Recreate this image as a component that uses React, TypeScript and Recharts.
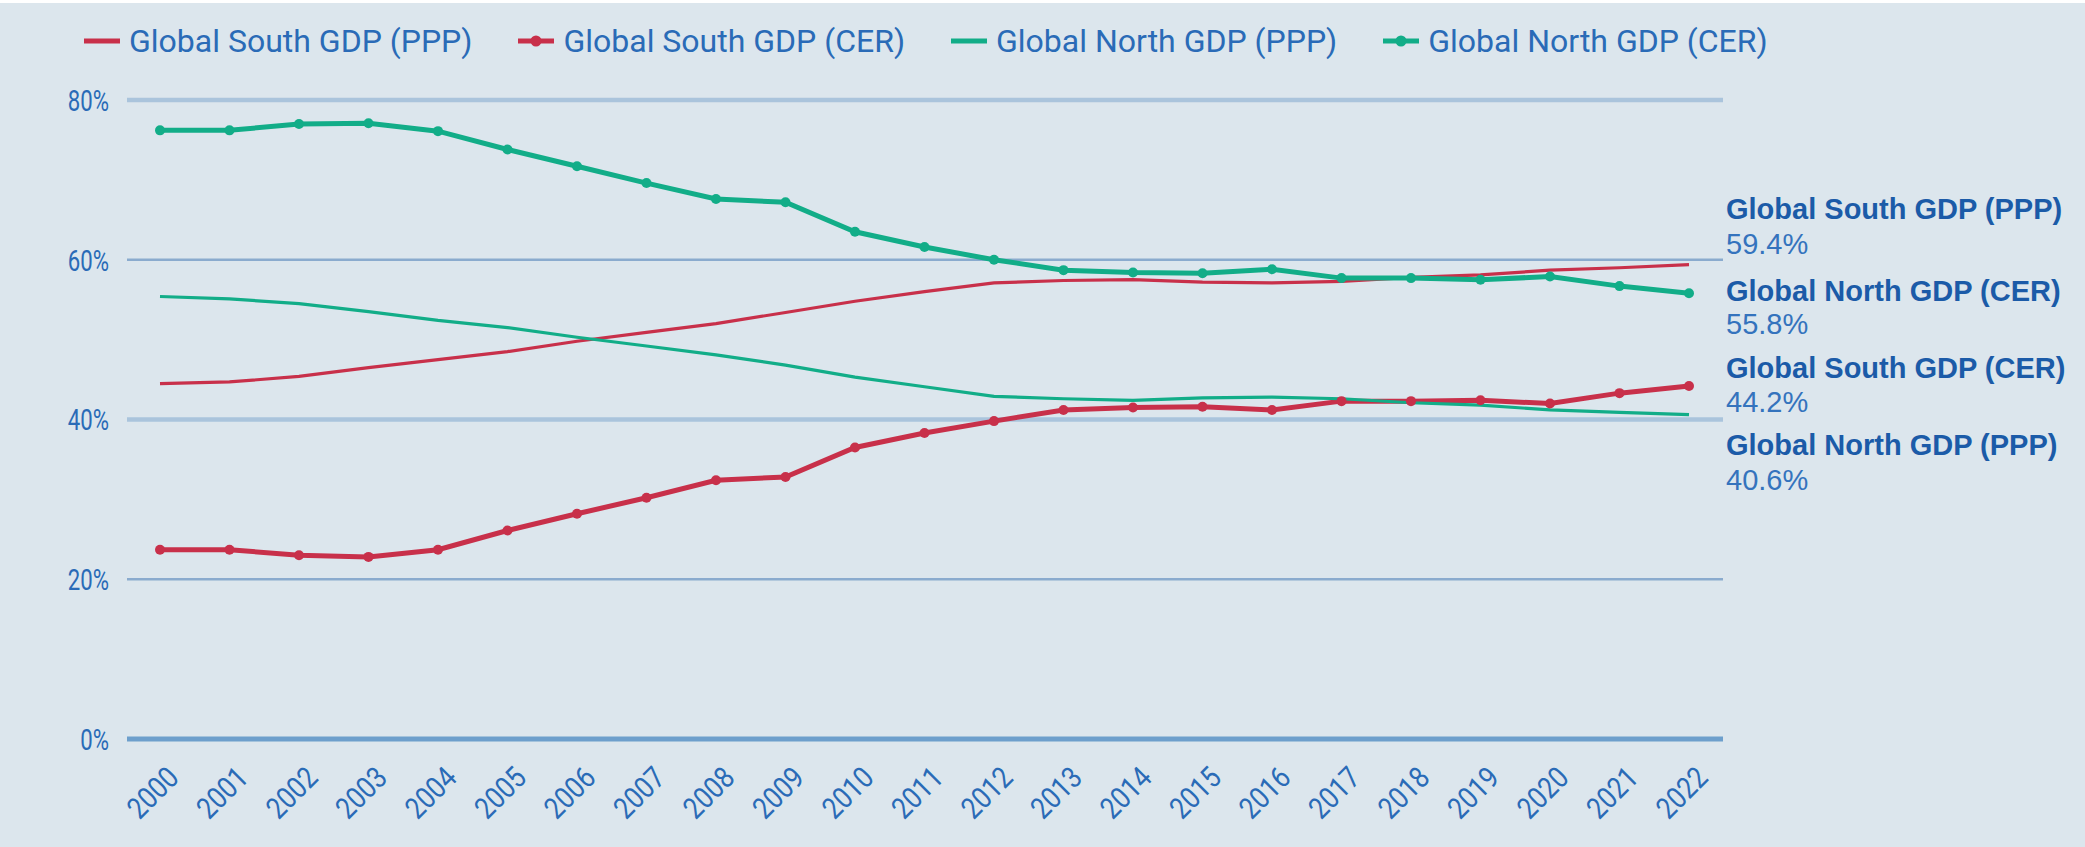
import React from 'react';
import { LineChart, Line, XAxis, YAxis, ReferenceLine, Legend } from 'recharts';

const years = ['2000','2001','2002','2003','2004','2005','2006','2007','2008','2009','2010','2011','2012','2013','2014','2015','2016','2017','2018','2019','2020','2021','2022'];
const southPPP = [44.5, 44.7, 45.4, 46.5, 47.5, 48.5, 49.8, 50.9, 52.0, 53.4, 54.8, 56.0, 57.1, 57.4, 57.5, 57.2, 57.1, 57.3, 57.8, 58.1, 58.7, 59.0, 59.4];
const southCER = [23.7, 23.7, 23.0, 22.8, 23.7, 26.1, 28.2, 30.2, 32.4, 32.8, 36.5, 38.3, 39.8, 41.2, 41.5, 41.6, 41.2, 42.3, 42.3, 42.4, 42.0, 43.3, 44.2];
const northPPP = [55.4, 55.1, 54.5, 53.5, 52.4, 51.5, 50.3, 49.2, 48.1, 46.8, 45.3, 44.1, 42.9, 42.6, 42.4, 42.7, 42.8, 42.6, 42.1, 41.8, 41.2, 40.9, 40.6];
const northCER = [76.2, 76.2, 77.0, 77.1, 76.1, 73.8, 71.7, 69.6, 67.6, 67.2, 63.5, 61.6, 60.0, 58.7, 58.4, 58.3, 58.8, 57.7, 57.7, 57.5, 57.9, 56.7, 55.8];
const yTicks = [0, 20, 40, 60, 80];

const RED = '#c8304a';
const GREEN = '#12ad88';
const TEXT = '#2a6bb7';
const BOLD = '#1b5ba8';

const series = [
  { key: 'sPPP', name: 'Global South GDP (PPP)', color: RED, values: southPPP, dots: false, nameDy: -46, valueDy: -11 },
  { key: 'sCER', name: 'Global South GDP (CER)', color: RED, values: southCER, dots: true, nameDy: -8, valueDy: 26 },
  { key: 'nPPP', name: 'Global North GDP (PPP)', color: GREEN, values: northPPP, dots: false, nameDy: 40, valueDy: 75 },
  { key: 'nCER', name: 'Global North GDP (CER)', color: GREEN, values: northCER, dots: true, nameDy: 8, valueDy: 41 },
];

const data = years.map((y, i) => {
  const row: any = { year: y };
  series.forEach((s) => { row[s.key] = s.values[i]; });
  return row;
});

const XTick = (props: any) => {
  const { x, payload } = props;
  const ty = 800;
  return (
    <g transform={`translate(${x} ${ty}) rotate(-45) scale(0.86 1)`}>
      <text x={0} y={0} textAnchor="middle" fill={TEXT} fontSize={30} fontFamily="Roboto">
        {payload.value}
      </text>
    </g>
  );
};

const YTick = (props: any) => {
  const { x, y, payload } = props;
  return (
    <g transform={`translate(${x} ${y}) scale(0.74 1)`}>
      <text x={0} y={0} dy="0.36em" textAnchor="end" fill={TEXT} fontSize={30} fontFamily="Roboto">
        {`${payload.value}%`}
      </text>
    </g>
  );
};

const makeEndLabel = (s: any) => (props: any) => {
  const { x, y, index, value } = props;
  if (index !== years.length - 1) return <g />;
  const lx = x + 37;
  return (
    <g>
      <text x={lx} y={y + s.nameDy} fill={BOLD} fontSize={29} fontWeight="bold" fontFamily="'Liberation Sans', Arial, sans-serif">{s.name}</text>
      <text x={lx} y={y + s.valueDy} fill="#3473bd" fontSize={29} fontFamily="'Liberation Sans', Arial, sans-serif">{Number(value).toFixed(1)}%</text>
    </g>
  );
};

const LegendContent = () => (
  <div style={{ display: 'flex', alignItems: 'center', fontFamily: 'Roboto', fontSize: 32, color: TEXT, whiteSpace: 'nowrap' }}>
    {series.map((s) => (
      <div key={s.key} style={{ display: 'flex', alignItems: 'center', marginRight: 46 }}>
        <svg width={36} height={14} style={{ marginRight: 9 }}>
          <line x1={0} y1={7} x2={36} y2={7} stroke={s.color} strokeWidth={5} />
          {s.dots && <circle cx={18} cy={7} r={5.5} fill={s.color} />}
        </svg>
        <span>{s.name}</span>
      </div>
    ))}
  </div>
);

export default function App() {
  return (
    <div style={{ position: 'relative', width: 2085, height: 847, background: '#dce6ed', overflow: 'hidden' }}>
      <style>{'body{margin:0}'}</style>
      <div style={{ position: 'absolute', top: 0, left: 0, width: 2085, height: 3, background: '#ffffff', zIndex: 2 }} />
      <LineChart width={2085} height={847} data={data} margin={{ top: 100, right: 362, bottom: 0, left: 0 }}>
        <Legend
          verticalAlign="top"
          align="left"
          content={<LegendContent />}
          wrapperStyle={{ position: 'absolute', top: 22, left: 84, height: 0, width: 1800, lineHeight: '38px' }}
        />
        {yTicks.filter((v) => v > 0).map((v, i) => (
          <ReferenceLine key={v} y={v} stroke={i % 2 === 1 ? '#aac4dc' : '#8aabce'} strokeWidth={i % 2 === 1 ? 4.5 : 2.5} ifOverflow="extendDomain" />
        ))}
        <XAxis
          dataKey="year"
          height={108}
          padding={{ left: 33, right: 34 }}
          tick={<XTick />}
          tickLine={false}
          tickSize={0}
          interval={0}
          axisLine={{ stroke: '#6d9fcc', strokeWidth: 5 }}
        />
        <YAxis
          width={127}
          domain={[0, 80]}
          ticks={yTicks}
          tickLine={false}
          axisLine={false}
          tickSize={0}
          tickMargin={18}
          tick={<YTick />}
        />
        {series.map((s) => (
          <Line
            key={s.key}
            dataKey={s.key}
            name={s.name}
            stroke={s.color}
            strokeWidth={s.dots ? 5 : 3.2}
            dot={s.dots ? { r: 5, fill: s.color, stroke: 'none' } : false}
            activeDot={false}
            isAnimationActive={false}
            label={makeEndLabel(s)}
          />
        ))}
      </LineChart>
    </div>
  );
}
